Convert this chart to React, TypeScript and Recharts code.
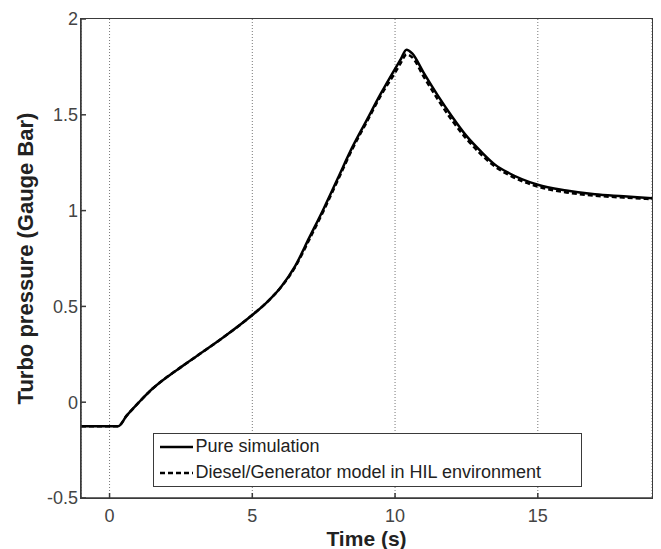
import React from 'react';
import { LineChart, Line, XAxis, YAxis, CartesianGrid, Legend } from 'recharts';

const TIME = [-1, 0, 0.3, 0.6, 1.0, 1.5, 2, 2.5, 3, 4, 5, 5.5, 6, 6.5, 7, 7.5, 8, 8.5, 9, 9.5, 10, 10.2, 10.4, 10.6, 11, 11.5, 12, 12.5, 13, 13.5, 14, 15, 16, 17, 18, 19];
const PURE = [-0.125, -0.125, -0.125, -0.07, -0.005, 0.07, 0.13, 0.183, 0.235, 0.34, 0.455, 0.52, 0.6, 0.71, 0.86, 1.01, 1.17, 1.33, 1.47, 1.61, 1.74, 1.79, 1.84, 1.82, 1.72, 1.6, 1.49, 1.39, 1.31, 1.24, 1.195, 1.135, 1.105, 1.085, 1.075, 1.065];
const HIL = [-0.125, -0.125, -0.125, -0.07, -0.005, 0.07, 0.13, 0.183, 0.235, 0.34, 0.455, 0.52, 0.6, 0.705, 0.85, 1.0, 1.16, 1.32, 1.46, 1.6, 1.72, 1.77, 1.815, 1.8, 1.7, 1.58, 1.47, 1.375, 1.295, 1.23, 1.185, 1.125, 1.095, 1.078, 1.068, 1.06];

const X_TICKS = [0, 5, 10, 15];
const Y_TICKS = [-0.5, 0, 0.5, 1, 1.5, 2];
const X_DOMAIN = [-1, 19];
const Y_DOMAIN = [-0.5, 2];

const SERIES = [
  { key: 'pure', name: 'Pure simulation', dash: undefined as string | undefined },
  { key: 'hil', name: 'Diesel/Generator model in HIL environment', dash: '5 3' },
];

const data = TIME.map((t, i) => ({ t, pure: PURE[i], hil: HIL[i] }));

const FONT = '"Liberation Sans", Arial, sans-serif';
const AXIS = '#3a3a3a';

const W = 661;
const H = 549;
const MARGIN = { top: 19, right: 9, bottom: 0, left: 0 };
const Y_AXIS_W = 81;
const X_AXIS_H = 51;

// plot area box (matlab style frame), derived from the chart margins
const FRAME = {
  left: MARGIN.left + Y_AXIS_W - 0.75,
  top: MARGIN.top - 0.75,
  width: W - MARGIN.left - Y_AXIS_W - MARGIN.right + 1.5,
  height: H - MARGIN.top - X_AXIS_H - MARGIN.bottom + 1.5,
};
const LEGEND_BOX = { left: 153, top: 433, width: 429, height: 54 };

// the legend layer covers the plot area: it draws the frame and the legend box inside it
const renderLegend = () => (
  <div
    style={{
      position: 'relative',
      width: FRAME.width,
      height: FRAME.height,
      border: `1.5px solid ${AXIS}`,
      boxSizing: 'border-box',
      pointerEvents: 'none',
    }}
  >
    <div
      style={{
        position: 'absolute',
        left: LEGEND_BOX.left - FRAME.left - 1.5,
        top: LEGEND_BOX.top - FRAME.top - 1.5,
        width: LEGEND_BOX.width,
        height: LEGEND_BOX.height,
        border: `1.5px solid ${AXIS}`,
        background: '#fff',
        boxSizing: 'border-box',
        padding: '0 0 0 6px',
        fontFamily: FONT,
        fontSize: 18,
        color: '#222',
      }}
    >
      {SERIES.map((s) => (
        <div key={s.key} style={{ display: 'flex', alignItems: 'center', height: 26 }}>
          <svg width={34} height={10} style={{ marginRight: 2 }}>
            <line x1={0} y1={5} x2={33} y2={5} stroke="#000" strokeWidth={2.5} strokeDasharray={s.dash} />
          </svg>
          <span>{s.name}</span>
        </div>
      ))}
    </div>
  </div>
);

export default function App() {
  return (
    <div style={{ position: 'absolute', left: 0, top: 0, width: W, height: H, background: '#fff', fontFamily: FONT }}>
      <LineChart width={W} height={H} data={data} margin={MARGIN}>
        <CartesianGrid horizontal={false} stroke="#777" strokeDasharray="1 2" />
        <XAxis
          dataKey="t"
          type="number"
          domain={X_DOMAIN}
          ticks={X_TICKS}
          allowDataOverflow
          height={X_AXIS_H}
          stroke={AXIS}
          strokeWidth={1.5}
          tickSize={-5}
          tickMargin={16}
          tick={{ fill: '#444', fontSize: 18, fontFamily: FONT }}
          label={{ value: 'Time (s)', position: 'insideBottom', offset: 3, style: { fill: '#222', fontSize: 21, fontWeight: 'bold', fontFamily: FONT } }}
        />
        <YAxis
          type="number"
          domain={Y_DOMAIN}
          ticks={Y_TICKS}
          allowDataOverflow
          width={Y_AXIS_W}
          stroke={AXIS}
          strokeWidth={1.5}
          tickSize={-5}
          tickMargin={8}
          tick={{ fill: '#444', fontSize: 18, fontFamily: FONT }}
          label={{
            value: 'Turbo pressure (Gauge Bar)',
            angle: -90,
            position: 'insideLeft',
            offset: 25,
            style: { textAnchor: 'middle', fill: '#222', fontSize: 22, fontWeight: 'bold', fontFamily: FONT },
          }}
        />
        <Legend
          layout="vertical"
          align="center"
          verticalAlign="middle"
          content={renderLegend}
          wrapperStyle={{ left: FRAME.left, top: FRAME.top, width: FRAME.width, height: FRAME.height }}
        />
        {SERIES.map((s) => (
          <Line
            key={s.key}
            dataKey={s.key}
            name={s.name}
            type="monotone"
            stroke="#000"
            strokeWidth={2.5}
            strokeDasharray={s.dash}
            dot={false}
            activeDot={false}
            isAnimationActive={false}
          />
        ))}
      </LineChart>
    </div>
  );
}
